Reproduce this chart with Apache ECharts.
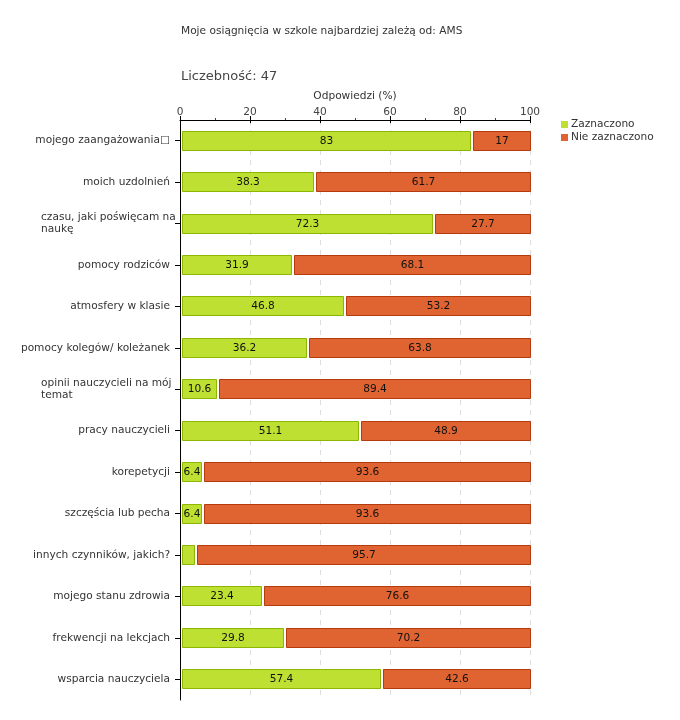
<!DOCTYPE html>
<html>
<head>
<meta charset="utf-8">
<script src="https://cdn.jsdelivr.net/npm/echarts@6/dist/echarts.min.js"></script>
<style>html,body{margin:0;padding:0;background:#fff;}#c{width:680px;height:720px;}</style>
</head>
<body>
<div id="c"></div>
<script>
const categories = [
  'mojego zaangażowania\u25A1',
  'moich uzdolnień',
  'czasu, jaki poświęcam na\nnaukę',
  'pomocy rodziców',
  'atmosfery w klasie',
  'pomocy kolegów/ koleżanek',
  'opinii nauczycieli na mój\ntemat',
  'pracy nauczycieli',
  'korepetycji',
  'szczęścia lub pecha',
  'innych czynników, jakich?',
  'mojego stanu zdrowia',
  'frekwencji na lekcjach',
  'wsparcia nauczyciela'
];
const zaznaczono = [83, 38.3, 72.3, 31.9, 46.8, 36.2, 10.6, 51.1, 6.4, 6.4, 4.3, 23.4, 29.8, 57.4];
const nieZaznaczono = [17, 61.7, 27.7, 68.1, 53.2, 63.8, 89.4, 48.9, 93.6, 93.6, 95.7, 76.6, 70.2, 42.6];
const seriesNames = ['Zaznaczono', 'Nie zaznaczono'];
const titleText = 'Moje osiągnięcia w szkole najbardziej zależą od: AMS';
const countText = 'Liczebność: 47';
const axisName = 'Odpowiedzi (%)';

const FONT = 'DejaVu Sans';
const FS = 10.6;
const GREEN = '#bee033', GREEN_B = '#8db600';
const ORANGE = '#e06432', ORANGE_B = '#b33b0e';

// [category index, start, end, value]
const greenData = zaznaczono.map((v, i) => [i, 0, v, v]);
const orangeData = nieZaznaczono.map((v, i) => [i, zaznaczono[i], zaznaczono[i] + v, v]);

function makeRender(isFirst, fill, stroke) {
  return function (params, api) {
    const i = api.value(0);
    const s = api.value(1);
    const e = api.value(2);
    const val = api.value(3);
    const p0 = api.coord([s, i]);
    const p1 = api.coord([e, i]);
    const band = api.size([0, 1])[1];
    const h = Math.round(band * 0.48);
    const x0 = Math.round(p0[0]) + 2;
    const x1 = isFirst ? Math.round(p1[0]) : Math.round(p1[0]) + 1;
    const y0 = Math.round(p0[1] - h / 2);
    return {
      type: 'rect',
      shape: { x: x0 + 0.5, y: y0 + 0.5, width: x1 - x0 - 1, height: h - 1 },
      style: { fill: fill, stroke: stroke, lineWidth: 1 },
      textContent: {
        style: {
          text: val >= 5 ? String(val) : '',
          fill: '#111',
          fontFamily: FONT,
          fontSize: FS
        }
      },
      textConfig: { position: 'inside' }
    };
  };
}

const chart = echarts.init(document.getElementById('c'), null, { renderer: 'canvas' });
chart.setOption({
  animation: false,
  backgroundColor: '#fff',
  title: [
    { text: titleText, left: 176, top: 21, textStyle: { fontFamily: FONT, fontSize: FS, fontWeight: 'normal', color: '#333' } },
    { text: countText, left: 176, top: 65, textStyle: { fontFamily: FONT, fontSize: 13, fontWeight: 'normal', color: '#444' } }
  ],
  legend: {
    orient: 'vertical',
    left: 556,
    top: 114,
    itemWidth: 7,
    itemHeight: 7,
    itemGap: 2,
    icon: 'rect',
    textStyle: { fontFamily: FONT, fontSize: FS, color: '#333', padding: [0, 0, 0, -2] },
    data: seriesNames
  },
  grid: { left: 180, right: 150, top: 120, bottom: 20, containLabel: false },
  xAxis: [
    {
      type: 'value',
      position: 'top',
      min: 0, max: 100, interval: 20,
      name: axisName,
      nameLocation: 'middle',
      nameGap: 12,
      nameTextStyle: { fontFamily: FONT, fontSize: FS, color: '#333' },
      axisLine: { show: true, lineStyle: { color: '#000', width: 1 } },
      axisTick: { show: true, length: 4, lineStyle: { color: '#000' } },
      minorTick: { show: true, splitNumber: 2, length: 2, lineStyle: { color: '#e00000', width: 1 } },
      axisLabel: { fontFamily: FONT, fontSize: FS, color: '#444', margin: 2 },
      splitLine: { show: true, lineStyle: { color: '#dddddd', type: [5, 5], width: 1 } }
    },
    {
      type: 'value',
      position: 'top',
      min: 0, max: 100, interval: 20,
      axisLine: { show: false },
      axisTick: { show: true, inside: true, length: 3, lineStyle: { color: '#000' } },
      axisLabel: { show: false },
      splitLine: { show: false }
    }
  ],
  yAxis: {
    type: 'category',
    inverse: true,
    data: categories,
    axisLine: { show: true, lineStyle: { color: '#000', width: 1 } },
    axisTick: { show: true, alignWithLabel: true, length: 5, lineStyle: { color: '#000' } },
    axisLabel: {
      fontFamily: FONT, fontSize: FS, color: '#333', margin: 10, lineHeight: 12,
      formatter: function (v) {
        if (v.indexOf('\n') >= 0) {
          return v.split('\n').map(l => '{w|' + l + '}').join('\n');
        }
        return v;
      },
      rich: {
        w: { width: 129, align: 'left', fontFamily: FONT, fontSize: FS, color: '#333', lineHeight: 12 }
      }
    },
    splitLine: { show: false }
  },
  series: [
    {
      name: seriesNames[0], type: 'custom', xAxisIndex: 0,
      itemStyle: { color: GREEN },
      renderItem: makeRender(true, GREEN, GREEN_B),
      encode: { x: [1, 2], y: 0 },
      data: greenData
    },
    {
      name: seriesNames[1], type: 'custom', xAxisIndex: 0,
      itemStyle: { color: ORANGE },
      renderItem: makeRender(false, ORANGE, ORANGE_B),
      encode: { x: [1, 2], y: 0 },
      data: orangeData
    }
  ]
});
</script>
</body>
</html>
